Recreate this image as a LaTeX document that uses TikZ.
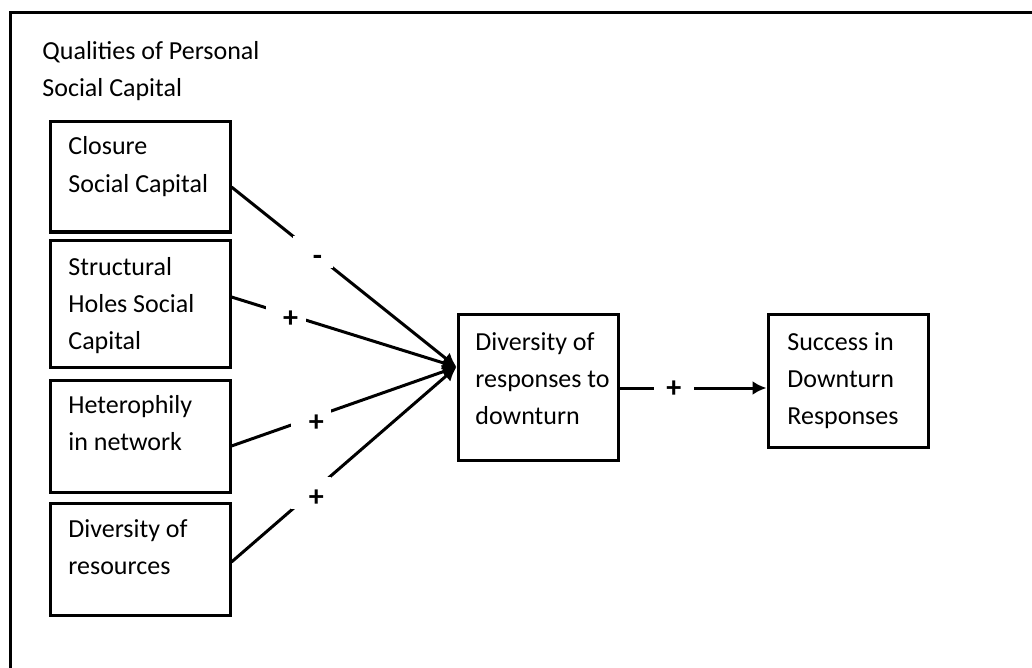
\documentclass[tikz,border=0pt]{standalone}
\usepackage{fontspec}
\setmainfont{Carlito}
\usetikzlibrary{arrows.meta}

\begin{document}
\begin{tikzpicture}[x=0.5pt,y=-0.5pt,
  box/.style={draw, line width=1.5pt, minimum width=90pt, inner sep=0pt},
  txt/.style={anchor=base west, align=left, inner sep=0pt,
    font=\fontsize{13pt}{18.5pt}\selectfont},
  link/.style={line width=1.5pt, -{Latex[length=7pt,width=7pt]}},
  sign/.style={fill=white, inner sep=0pt, minimum width=20pt, minimum height=16pt,
    text height=1.6ex, text depth=.25ex, font=\bfseries\fontsize{15pt}{16pt}\selectfont}]

% sign glyph, set a little low and to the right inside its gap
\newcommand\signmark[1]{\hspace*{5pt}\raisebox{-3.5pt}{#1}}

% page and outer frame (runs off the right and bottom edges)
\useasboundingbox (0,0) rectangle (1032,668);
\clip (0,0) rectangle (1032,668);
\fill[white] (0,0) rectangle (1032,668);
\draw[line width=1.5pt] (10,700) -- (10,13) -- (1060,13);

% group heading (anchored at the baseline of its last line)
\node[txt] (head) at (42,97) {Qualities of Personal\\Social Capital};

% source boxes
\node[box, minimum height=55pt]   (b1) at (140,177)   {};
\node[box, minimum height=63.5pt] (b2) at (140,303.5) {};
\node[box, minimum height=56pt]   (b3) at (140,436)   {};
\node[box, minimum height=56pt]   (b4) at (140,559)   {};

\node[txt] (t1) at (68,192) {Closure\\Social Capital};
\node[txt] (t2) at (68,349) {Structural\\Holes Social\\Capital};
\node[txt] (t3) at (68,450) {Heterophily\\in network};
\node[txt] (t4) at (68,574) {Diversity of\\resources};

% mediator and outcome
\node[box, minimum width=80pt, minimum height=73pt]   (mid) at (538,387)   {};
\node[box, minimum width=80pt, minimum height=66.5pt] (out) at (848,380.5) {};

\node[txt] (tm) at (475,424) {Diversity of\\responses to\\downturn};
\node[txt] (to) at (787,424) {Success in\\Downturn\\Responses};

% signed links
\coordinate (hub) at ([yshift=10pt]mid.west);
\draw[link] ([yshift=-5pt]b1.east)   -- node[sign, pos=0.36]  (s1) {\signmark{-}} (hub);
\draw[link] ([yshift=3.25pt]b2.east) -- node[sign, pos=0.24]  (s2) {\signmark{+}} (hub);
\draw[link] ([yshift=-5pt]b3.east)   -- node[sign, pos=0.355] (s3) {\signmark{+}} (hub);
\draw[link] ([yshift=-1.5pt]b4.east) -- node[sign, pos=0.355] (s4) {\signmark{+}} (hub);
\draw[link] (mid.east |- 0,388) -- node[sign, pos=0.37] (s5) {\raisebox{-1.5pt}{+}} (out.west |- 0,388);
\end{tikzpicture}
\end{document}
